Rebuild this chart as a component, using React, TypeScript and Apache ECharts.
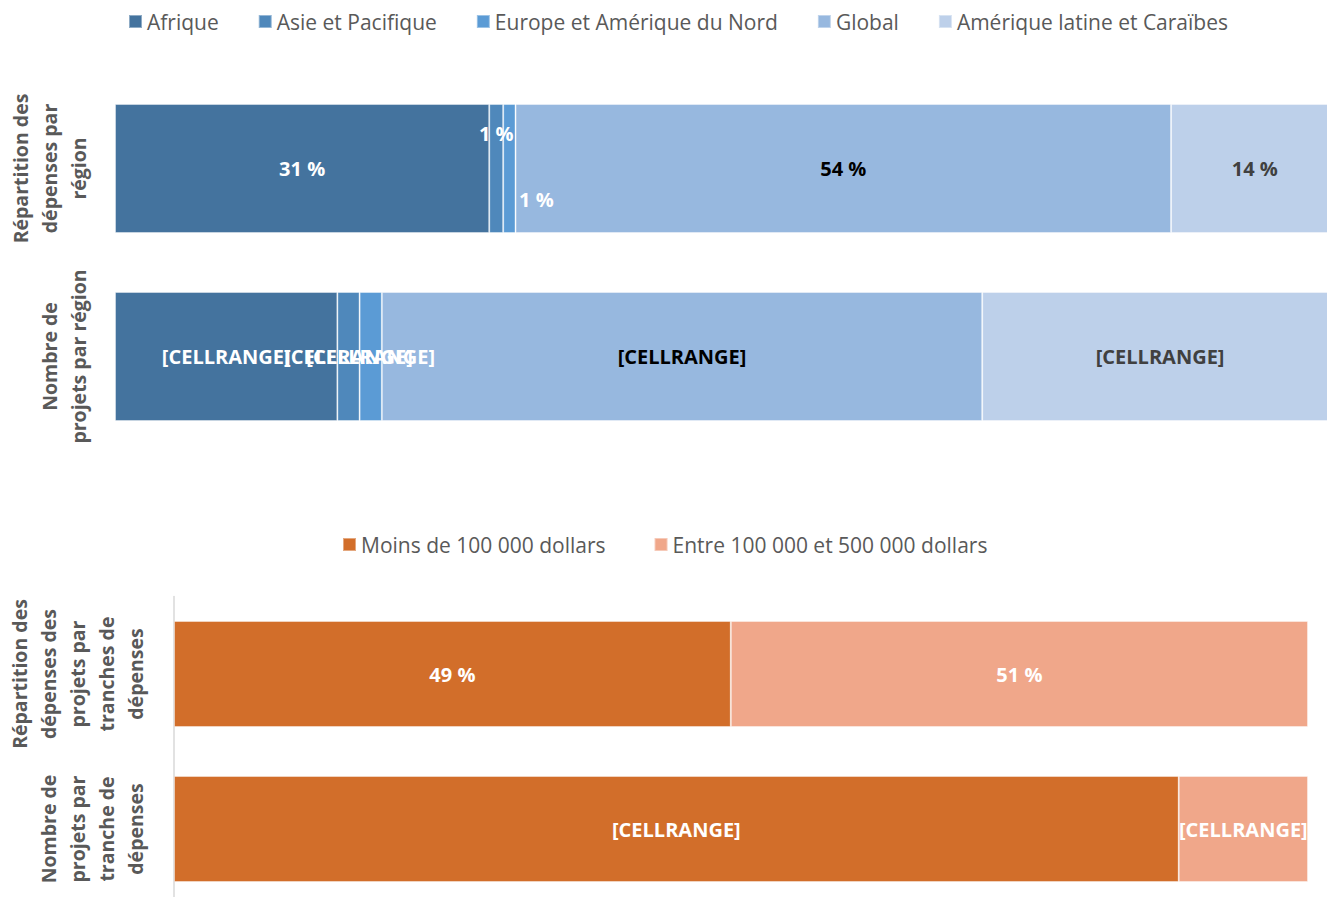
import React, { useEffect, useRef } from "react";
import * as echarts from "echarts";

// ---------- Data ----------
const regionCategories = [
  "Répartition des\ndépenses par\nrégion",
  "Nombre de\nprojets par région",
];
const regionNames = [
  "Afrique",
  "Asie et Pacifique",
  "Europe et Amérique du Nord",
  "Global",
  "Amérique latine et Caraïbes",
];
const regionSpendShare = [30.6, 1.14, 1.01, 53.6, 13.7]; // % of spending
const regionProjectCount = [10, 1, 1, 27, 16]; // number of projects
const regionProjectLabels = ["[CELLRANGE]", "[CELLRANGE]", "[CELLRANGE]", "[CELLRANGE]", "[CELLRANGE]"];
const regionColors = ["#44739E", "#4F88BB", "#5B9BD5", "#97B8DF", "#BDD0EA"];
const regionLabelColors = ["#FFFFFF", "#FFFFFF", "#FFFFFF", "#000000", "#404040"];

const trancheCategories = [
  "Répartition des\ndépenses des\nprojets par\ntranches de\ndépenses",
  "Nombre de\nprojets par\ntranche de\ndépenses",
];
const trancheNames = ["Moins de 100 000 dollars", "Entre 100 000 et 500 000 dollars"];
const trancheSpendShare = [49.1, 50.9]; // %
const trancheProjectShare = [88.6, 11.4]; // %
const trancheProjectLabels = ["[CELLRANGE]", "[CELLRANGE]"];
const trancheColors = ["#D26E2A", "#F0A78A"];

// ---------- Component ----------
const FONT = "'Open Sans', sans-serif";
const GREY = "#595959";

export default function App() {
  const ref = useRef<HTMLDivElement>(null);

  useEffect(() => {
    if (!ref.current) return;
    const chart = echarts.init(ref.current, undefined, { renderer: "svg" });

    const projectTotal = regionProjectCount.reduce((a, b) => a + b, 0);

    const labelOffsets: Record<number, number[]> = {
      1: [0, -35],
      2: [27, 31],
    };

    const barLabel = {
      show: true,
      position: "inside",
      fontFamily: FONT,
      fontWeight: "bold",
      fontSize: 20,
    };

    const regionSeries = regionNames.map((name, i) => ({
      name,
      type: "bar",
      stack: "region",
      xAxisIndex: 0,
      yAxisIndex: 0,
      barWidth: 129,
      itemStyle: { color: regionColors[i], borderColor: "rgba(255,255,255,0.4)", borderWidth: 1 },
      label: { ...barLabel, color: regionLabelColors[i] },
      data: [
        {
          value: regionSpendShare[i],
          label: {
            formatter: () => Math.round(regionSpendShare[i]) + " %",
            offset: labelOffsets[i] || [0, 0],
          },
        },
        {
          value: (regionProjectCount[i] / projectTotal) * 100,
          label: { formatter: () => regionProjectLabels[i] },
        },
      ],
    }));

    const trancheSeries = trancheNames.map((name, i) => ({
      name,
      type: "bar",
      stack: "tranche",
      xAxisIndex: 1,
      yAxisIndex: 1,
      barWidth: 106,
      itemStyle: { color: trancheColors[i], borderColor: "rgba(255,255,255,0.4)", borderWidth: 1 },
      label: { ...barLabel, color: "#FFFFFF" },
      data: [
        {
          value: trancheSpendShare[i],
          label: { formatter: () => Math.round(trancheSpendShare[i]) + " %" },
        },
        {
          value: trancheProjectShare[i],
          label: { formatter: () => trancheProjectLabels[i] },
        },
      ],
    }));

    const yLabel = {
      rotate: 90,
      interval: 0,
      color: GREY,
      fontFamily: FONT,
      fontWeight: "bold",
      fontSize: 19.5,
      lineHeight: 29,
      align: "center",
    };

    const legendText = { color: GREY, fontSize: 21, fontFamily: FONT };

    chart.setOption({
      animation: false,
      backgroundColor: "#FFFFFF",
      textStyle: { fontFamily: FONT },
      legend: [
        {
          data: regionNames,
          left: 123,
          top: 6,
          icon: "rect",
          itemWidth: 13,
          itemHeight: 13,
          itemGap: 39,
          textStyle: legendText,
        },
        {
          data: trancheNames,
          left: 337,
          top: 529,
          icon: "rect",
          itemWidth: 13,
          itemHeight: 13,
          itemGap: 48,
          textStyle: legendText,
        },
      ],
      grid: [
        { left: 115, width: 1223, top: 74.5, height: 376 },
        { left: 174, width: 1134, top: 596.5, height: 310 },
      ],
      xAxis: [
        { type: "value", gridIndex: 0, min: 0, max: 100, show: false },
        { type: "value", gridIndex: 1, min: 0, max: 100, show: false },
      ],
      yAxis: [
        {
          type: "category",
          gridIndex: 0,
          inverse: true,
          data: regionCategories,
          axisLine: { show: false },
          axisTick: { show: false },
          axisLabel: { ...yLabel, margin: 22 },
        },
        {
          type: "category",
          gridIndex: 1,
          inverse: true,
          data: trancheCategories,
          axisLine: { show: true, lineStyle: { color: "#D9D9D9", width: 1.5 } },
          axisTick: { show: false },
          axisLabel: { ...yLabel, margin: 24 },
        },
      ],
      series: [...regionSeries, ...trancheSeries],
    });

    return () => chart.dispose();
  }, []);

  return (
    <div
      style={{
        position: "fixed",
        left: 0,
        top: 0,
        width: 1327,
        height: 897,
        overflow: "hidden",
        background: "#FFFFFF",
      }}
    >
      <div ref={ref} style={{ width: 1345, height: 912 }} />
    </div>
  );
}
